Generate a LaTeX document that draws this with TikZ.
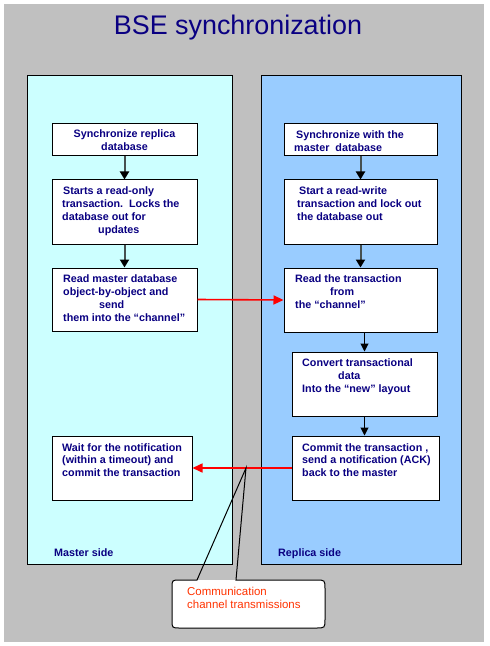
\documentclass[tikz,border=0pt]{standalone}
\usepackage{fontspec}
\setmainfont{Liberation Sans}
\usetikzlibrary{arrows.meta}
\definecolor{bggray}{RGB}{192,192,192}
\definecolor{mastercol}{RGB}{204,255,255}
\definecolor{replicacol}{RGB}{153,204,255}
\definecolor{txtblue}{RGB}{10,0,130}
\definecolor{calloutred}{RGB}{255,51,0}
\definecolor{arrgray}{RGB}{70,80,80}
\newcommand\bxf{\fontsize{10.8}{12.8}\selectfont\bfseries}
\tikzset{
  panel/.style={draw=black, line width=1bp, inner sep=0pt},
  stepbox/.style={draw=black, fill=white, line width=1bp, inner sep=0pt},
  boxtext/.style={anchor=north west, inner sep=0pt, align=left, text=txtblue, font=\bxf},
  grayarrow/.style={draw=arrgray, line width=2bp, -{Triangle[length=8bp,width=9bp,color=black]}},
  blackarrow/.style={draw=black, line width=1bp, -{Triangle[length=8bp,width=8bp]}},
  redarrow/.style={draw=red, line width=1.6bp, -{Triangle[length=10bp,width=9bp]}},
}
\begin{document}
\begin{tikzpicture}[x=1bp, y=-1bp]
\useasboundingbox (0,0) rectangle (490,646);
\fill[bggray] (4,4) rectangle (484,642);
% title
\node[anchor=base, text=txtblue, font=\fontsize{27}{30}\selectfont, inner sep=0pt] (title) at (238,35) {BSE synchronization};
% panels
\node[panel, fill=mastercol, minimum width=204bp, minimum height=488bp] (MP) at (130,320) {};
\node[panel, fill=replicacol, minimum width=200bp, minimum height=488bp] (RP) at (361,320) {};
% master boxes
\node[stepbox, minimum width=145bp, minimum height=32bp, align=center, text=txtblue, font=\bxf] (L1) at (124.5,140) {Synchronize replica\\database};
\node[stepbox, minimum width=145bp, minimum height=64bp] (L2) at (124.5,212) {};
\node[stepbox, minimum width=145bp, minimum height=63bp] (L3) at (124.5,299.5) {};
\node[stepbox, minimum width=140bp, minimum height=64bp] (L4) at (122,468) {};
% replica boxes
\node[stepbox, minimum width=153bp, minimum height=32bp] (R1) at (360.5,140) {};
\node[stepbox, minimum width=153bp, minimum height=64bp] (R2) at (360.5,212) {};
\node[stepbox, minimum width=153bp, minimum height=64bp] (R3) at (360.5,300) {};
\node[stepbox, minimum width=145bp, minimum height=64bp] (R4) at (364.5,384) {};
\node[stepbox, minimum width=147bp, minimum height=64bp] (R5) at (365.5,468) {};
% box texts
\node[boxtext] (L2t) at (62,187) {\hspace*{1bp}Starts a read-only\\transaction.\ \ Locks the\\database out for\\\hspace*{36bp}updates};
\node[boxtext] (L3t) at (63,275) {Read master database\\object-by-object and\\\hspace*{36bp}send\\them into the “channel”};
\node[boxtext] (L4t) at (62,443) {Wait for the notification\\(within a timeout) and\\commit the transaction};
\node[boxtext] (R1t) at (294,131) {\hspace*{2bp}Synchronize with the\\master\ \ database};
\node[boxtext] (R2t) at (297,187) {\hspace*{2bp}Start a read-write\\transaction and lock out\\the database out};
\node[boxtext] (R3t) at (295,275) {Read the transaction\\\hspace*{35bp}from\\the “channel”};
\node[boxtext] (R4t) at (302,359) {Convert transactional\\\hspace*{36bp}data\\Into the “new” layout};
\node[boxtext] (R5t) at (302,443) {Commit the transaction ,\\send a notification (ACK)\\back to the master};
% side labels
\node[anchor=base west, inner sep=0pt, text=txtblue, font=\bxf] (ML) at (54,556) {Master side};
\node[anchor=base west, inner sep=0pt, text=txtblue, font=\bxf] (RL) at (278,556) {Replica side};
% vertical arrows
\draw[grayarrow] (L1.south) -- (L2.north);
\draw[grayarrow] (L2.south) -- (L3.north);
\draw[grayarrow] (R1.south) -- (R2.north);
\draw[grayarrow] (R2.south) -- (R3.north);
\draw[blackarrow] (R4.north |- R3.south) -- (R4.north);
\draw[blackarrow] (R4.south) -- (R4.south |- R5.north);
% red arrows
\draw[redarrow] (L3.east) -- (R3.west);
\draw[redarrow] (R5.west) -- (L4.east);
% callout
\coordinate (tip) at (246,468);
\fill[white] (180,580) -- (316,580) .. controls (325,580) .. (325,589) -- (325,619) .. controls (325,628) .. (316,628) -- (180,628) .. controls (172,628) .. (172,620) -- (172,588) .. controls (172,580) .. (180,580) -- cycle;
\draw[black, line width=1bp, line join=miter] (180,580) -- (197,580) -- (tip) -- (236,580) -- (316,580) .. controls (325,580) .. (325,589) -- (325,619) .. controls (325,628) .. (316,628) -- (180,628) .. controls (172,628) .. (172,620) -- (172,588) .. controls (172,580) .. (180,580) -- cycle;
\node[anchor=north west, inner sep=0pt, align=left, text=calloutred, font=\fontsize{11.5}{13.5}\selectfont] (CT) at (187,587) {Communication\\channel transmissions};
\end{tikzpicture}
\end{document}
